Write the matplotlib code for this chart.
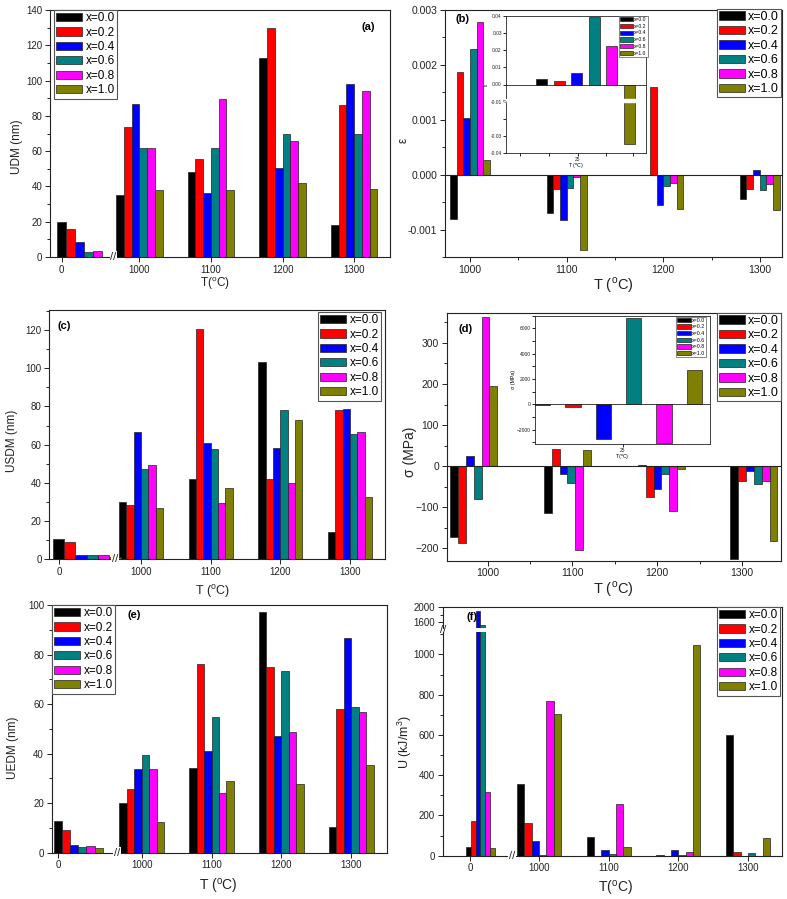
import matplotlib
matplotlib.use('Agg')
import matplotlib.pyplot as plt
from matplotlib.ticker import MultipleLocator, FixedLocator
from matplotlib.patches import Rectangle

plt.rcParams['font.family'] = ['Liberation Sans', 'DejaVu Sans']
plt.rcParams['mathtext.fontset'] = 'custom'
plt.rcParams['mathtext.rm'] = 'Liberation Sans'

W, H = 787, 899

# ---- data ----
temps = ['0', '1000', '1100', '1200', '1300']
hot_temps = ['1000', '1100', '1200', '1300']
comps = ['x=0.0', 'x=0.2', 'x=0.4', 'x=0.6', 'x=0.8', 'x=1.0']
colors = ['#000000', '#ff0000', '#0000ff', '#008080', '#ff00ff', '#808000']

# rows = temperature, columns = composition
udm = [
    [19.6, 15.8, 8.5, 2.8, 3.2, 0.0],
    [34.9, 73.6, 86.8, 61.7, 61.7, 37.9],
    [47.9, 55.7, 36.2, 61.7, 89.8, 37.9],
    [113.0, 129.6, 50.4, 69.6, 65.5, 41.9],
    [18.3, 86.0, 98.3, 69.6, 94.3, 38.7],
]
usdm = [
    [10.5, 9.1, 2.4, 2.1, 2.1, 1.4],
    [29.8, 28.3, 66.7, 47.1, 49.6, 26.9],
    [41.9, 120.4, 61.1, 57.6, 29.3, 37.5],
    [103.3, 41.9, 58.1, 78.0, 39.8, 73.1],
    [14.1, 78.2, 78.7, 65.4, 66.5, 32.8],
]
uedm = [
    [12.9, 9.3, 3.2, 2.2, 2.7, 1.9],
    [20.1, 25.6, 33.9, 39.4, 33.9, 12.4],
    [34.2, 76.2, 41.0, 54.8, 24.1, 28.9],
    [97.0, 75.1, 47.2, 73.4, 48.7, 27.9],
    [10.4, 58.0, 86.5, 58.9, 56.7, 35.4],
]
energy = [
    [41, 174, 1910, 1530, 318, 38],
    [356, 162, 74.5, 5, 770, 702],
    [91, 0, 28, 8, 257, 41],
    [3, 0, 26.5, 5, 18, 1046],
    [599, 18, 0, 13, 0, 86],
]
strain = [
    [-0.0008, 0.00187, 0.00103, 0.00229, 0.00279, 0.00026],
    [-0.0007, -0.00027, -0.00082, -0.00025, -0.00005, -0.00138],
    [0.0, 0.0016, -0.00055, -0.00021, -0.00015, -0.00062],
    [-0.00044, -0.00027, 0.00009, -0.00028, -0.00017, -0.00065],
]
strain_25 = [0.0034, 0.0018, 0.0068, 0.0394, 0.0224, -0.035]
stress = [
    [-172, -186, 24, -79, 362, 195],
    [-115, 43, -18, -40, -203, 40],
    [2, -75, -55, -18, -109, -8],
    [-227, -35, -11, -43, -37, -182],
]
stress_25 = [-40, -240, -2760, 6790, -3030, 2710]

fig = plt.figure(figsize=(W / 100, H / 100), dpi=100)


def px_axes(x0, y0, x1, y1):
    return fig.add_axes([x0 / W, 1 - y1 / H, (x1 - x0) / W, (y1 - y0) / H])


def style(ax, fs=7, lw=0.8):
    for s in ax.spines.values():
        s.set_linewidth(lw)
        s.set_color('#222222')
    ax.tick_params(direction='out', length=3.5, width=0.7, labelsize=fs, colors='#222222', pad=2)
    ax.tick_params(which='minor', direction='out', length=2, width=0.6)


def legend(ax, x0, y0, fs=8.5, hl=2.2, hh=0.7, ls=0.2, bp=0.2, tp=0.3, lw=0.8):
    leg = ax.legend(loc='upper left', bbox_to_anchor=(x0 / W, 1 - y0 / H),
                    bbox_transform=fig.transFigure, fontsize=fs, handlelength=hl,
                    handleheight=hh, labelspacing=ls, borderpad=bp, handletextpad=tp,
                    borderaxespad=0, frameon=True, fancybox=False, edgecolor='#555555',
                    framealpha=1)
    leg.get_frame().set_linewidth(lw)
    return leg


def broken_bars(ax, vals, t0, w0, w, lw=0.5):
    for i in range(6):
        xs = [t0 + i * w0] + [k + (i - 2.5) * w for k in range(4)]
        ws = [w0] + [w] * 4
        hs = [row[i] for row in vals]
        ax.bar(xs, hs, width=ws, color=colors[i], edgecolor='#222222', linewidth=lw,
               label=comps[i])


def xbreak(ax, xb, fs=8):
    ax.text(xb, 0, '//', transform=ax.get_xaxis_transform(), ha='center', va='center',
            fontsize=fs, color='#222222', clip_on=False, zorder=10,
            bbox=dict(fc='white', ec='none', pad=0.6))


def ftext(x, y, s, fs, rot=0, **kw):
    fig.text(x / W, 1 - y / H, s, fontsize=fs, rotation=rot, ha='center', va='center',
             color='#222222', **kw)


deg = r'($^{\rm o}$C)'

# ---- (a) ----
ax = px_axes(50, 10, 390, 257)
broken_bars(ax, udm, -1.084, 0.125, 0.108)
ax.set_xlim(-1.247, 3.5)
ax.set_ylim(0, 140)
ax.set_xticks([-1.084, 0, 1, 2, 3], temps)
ax.yaxis.set_major_locator(MultipleLocator(20))
ax.yaxis.set_minor_locator(MultipleLocator(10))
style(ax)
xbreak(ax, -0.36)
legend(ax, 54, 10)
ax.text(0.955, 0.93, '(a)', transform=ax.transAxes, ha='right', va='center',
        fontsize=8, fontweight='bold')
ftext(17, 147, 'UDM (nm)', 8.5, 90)
ftext(215, 284, 'T' + deg, 8.5)

# ---- (b) ----
ax = px_axes(445, 10, 782, 257)
for i in range(6):
    ax.bar([k + (i - 2.5) * 0.069 for k in range(4)], [row[i] for row in strain],
           width=0.069, color=colors[i], edgecolor='#222222', linewidth=0.5, label=comps[i])
ax.axhline(0, color='#222222', lw=0.8)
ax.set_xlim(-0.26, 3.23)
ax.set_ylim(-0.0015, 0.003)
ax.set_xticks(range(4), hot_temps)
ax.xaxis.set_minor_locator(MultipleLocator(0.5))
ax.yaxis.set_minor_locator(MultipleLocator(0.0005))
ax.set_yticks([-0.001, 0, 0.001, 0.002, 0.003], ['-0.001', '0.000', '0.001', '0.002', '0.003'])
style(ax, 7.5)
legend(ax, 717, 9, fs=9, hl=2.1, tp=0.25, bp=0.15)
ax.text(0.03, 0.965, '(b)', transform=ax.transAxes, ha='left', va='center',
        fontsize=8, fontweight='bold')
ftext(404, 140, 'ε', 8.5, 90)
ftext(613, 285, 'T ' + deg, 10.5)

# inset (b)
ai = px_axes(506, 16, 646, 153)
for i in range(6):
    ai.bar(0.567 + (i - 2.5) * 0.125, strain_25[i], width=0.0786, color=colors[i],
           edgecolor='#222222', linewidth=0.5, label=comps[i])
ai.axhline(0, color='#222222', lw=0.6)
ai.add_patch(Rectangle((0, -0.0102), 1, 0.0015, transform=ai.get_yaxis_transform(),
                       color='white', zorder=5))
ai.set_xlim(0, 1)
ai.set_ylim(-0.04, 0.04)
ai.set_xticks([0.514], ['25'])
ai.xaxis.set_minor_locator(FixedLocator([0.102, 0.31, 0.717, 0.905]))
ai.set_yticks([-0.04, -0.03, -0.01, 0, 0.01, 0.02, 0.03, 0.04],
              ['-0.04', '-0.03', '-0.01', '0.00', '0.01', '0.02', '0.03', '0.04'])
ai.yaxis.set_minor_locator(FixedLocator([-0.02]))
style(ai, 3.5, 0.6)
ai.tick_params(length=2, pad=1)
ai.text(0, -0.0095, '//', transform=ai.get_yaxis_transform(), ha='center', va='center',
        fontsize=4, rotation=90, zorder=10, bbox=dict(fc='white', ec='none', pad=0.2),
        clip_on=False)
legend(ai, 619, 16, fs=3.6, hl=2.6, hh=0.9, ls=0.35, bp=0.2, tp=0.2, lw=0.5)
ai.set_xlabel('T ' + deg, fontsize=3.8, labelpad=0)
ai.set_ylabel('ε', fontsize=4, labelpad=1)

# ---- (c) ----
ax = px_axes(49.3, 310, 385, 559.3)
broken_bars(ax, usdm, -1.187, 0.163, 0.105)
ax.set_xlim(-1.316, 3.502)
ax.set_ylim(0, 130.5)
ax.set_xticks([-1.172, 0, 1, 2, 3], temps)
ax.yaxis.set_major_locator(MultipleLocator(20))
ax.yaxis.set_minor_locator(MultipleLocator(10))
style(ax)
xbreak(ax, -0.373)
legend(ax, 318, 312)
ax.text(0.025, 0.935, '(c)', transform=ax.transAxes, ha='left', va='center',
        fontsize=8, fontweight='bold')
ftext(12, 441, 'USDM (nm)', 8.5, 90)
ftext(213, 592, 'T ' + deg, 9)

# ---- (d) ----
ax = px_axes(446.7, 313.3, 781, 560.7)
d_centers = [-0.165, 0.94, 2.05, 3.14]
for i in range(6):
    ax.bar([c + (i - 2.5) * 0.0925 for c in d_centers], [row[i] for row in stress],
           width=0.0925, color=colors[i], edgecolor='#222222', linewidth=0.5, label=comps[i])
ax.axhline(0, color='#222222', lw=0.8)
ax.set_xlim(-0.484, 3.46)
ax.set_ylim(-230, 372)
ax.set_xticks(range(4), hot_temps)
ax.xaxis.set_minor_locator(MultipleLocator(0.5))
ax.yaxis.set_major_locator(MultipleLocator(100))
ax.yaxis.set_minor_locator(MultipleLocator(50))
style(ax, 7.5)
legend(ax, 717, 313, fs=9, hl=2.1, tp=0.25, bp=0.15)
ax.text(0.035, 0.935, '(d)', transform=ax.transAxes, ha='left', va='center',
        fontsize=8, fontweight='bold')
ftext(410, 452, 'σ (MPa)', 10, 90)
ftext(613, 589, 'T ' + deg, 10.5)

# inset (d)
ai = px_axes(535, 315.7, 710, 444)
for i in range(6):
    ai.bar(0.477 + (i - 2.5) * 0.173, stress_25[i], width=0.0875, color=colors[i],
           edgecolor='#222222', linewidth=0.5, label=comps[i])
ai.axhline(0, color='#222222', lw=0.6)
ai.set_xlim(0, 1)
ai.set_ylim(-3140, 7000)
ai.set_xticks([0.5], ['25'])
ai.yaxis.set_major_locator(MultipleLocator(2000))
ai.yaxis.set_minor_locator(MultipleLocator(1000))
style(ai, 3.5, 0.6)
ai.tick_params(length=2, pad=1)
legend(ai, 676, 316.7, fs=3.8, hl=2.6, hh=0.9, ls=0.3, bp=0.2, tp=0.2, lw=0.5)
ai.set_xlabel('T' + deg, fontsize=3.8, labelpad=0)
ai.set_ylabel('σ (MPa)', fontsize=3.8, labelpad=1)

# ---- (e) ----
ax = px_axes(51.7, 605, 387, 852.7)
broken_bars(ax, uedm, -1.2, 0.117, 0.107)
ax.set_xlim(-1.286, 3.51)
ax.set_ylim(0, 100)
ax.set_xticks([-1.19, 0, 1, 2, 3], temps)
ax.yaxis.set_major_locator(MultipleLocator(20))
ax.yaxis.set_minor_locator(MultipleLocator(10))
style(ax)
xbreak(ax, -0.357)
legend(ax, 52, 605)
ax.text(0.225, 0.96, '(e)', transform=ax.transAxes, ha='left', va='center',
        fontsize=8, fontweight='bold')
ftext(13, 748, 'UEDM (nm)', 8.5, 90)
ftext(218, 887, 'T ' + deg, 10)

# ---- (f) ----
at = px_axes(442.7, 607.3, 781.7, 627.5)
ab = px_axes(442.7, 631.7, 781.7, 855.7)
for a in (at, ab):
    broken_bars(a, energy, -1.014, 0.069, 0.105)
    a.set_xlim(-1.383, 3.483)
at.set_ylim(1467, 2000)
ab.set_ylim(0, 1113)
at.set_yticks([1600, 2000])
at.yaxis.set_minor_locator(FixedLocator([1800]))
at.set_xticks([])
ab.set_xticks([-0.99, 0, 1, 2, 3], temps)
ab.yaxis.set_major_locator(MultipleLocator(200))
ab.yaxis.set_minor_locator(MultipleLocator(100))
style(at)
style(ab)
at.spines['bottom'].set_visible(False)
ab.spines['top'].set_visible(False)
xbreak(ab, -0.383)
# continue right-hand frame across the gap
fig.add_artist(plt.Line2D([781.7 / W] * 2, [1 - 627.5 / H, 1 - 631.7 / H],
                          color='#222222', lw=0.8))
ftext(442.7, 630, '//', 8, zorder=10)
legend(ab, 717, 607)
at.text(0.07, 0.5, '(f)', transform=at.transAxes, ha='left', va='center',
        fontsize=8, fontweight='bold')
ftext(405, 742, 'U (kJ/m$^{\\rm 3}$)', 9, 90)
ftext(615, 888, 'T' + deg, 10)

fig.savefig('out.png', dpi=100)
